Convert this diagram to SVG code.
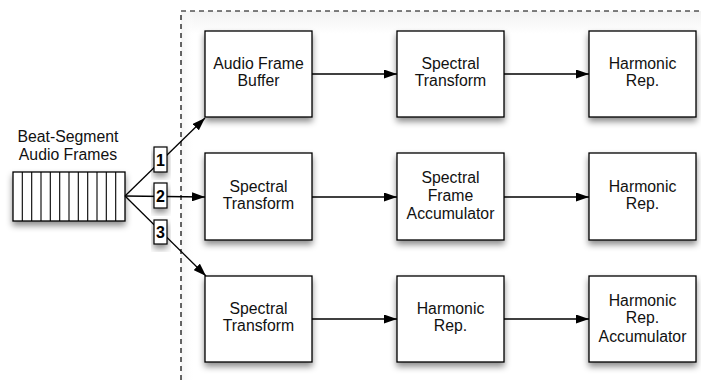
<svg xmlns="http://www.w3.org/2000/svg" width="701" height="380" viewBox="0 0 701 380">
<defs>
<filter id="sh" x="-20%" y="-20%" width="150%" height="150%">
<feDropShadow dx="0" dy="4" stdDeviation="3" flood-color="#000" flood-opacity="0.45"/>
</filter>
<linearGradient id="ins" gradientUnits="userSpaceOnUse" x1="0" y1="11" x2="0" y2="34">
<stop offset="0" stop-color="#f2f2f2"/>
<stop offset="1" stop-color="#ffffff"/>
</linearGradient>
<linearGradient id="insl" gradientUnits="userSpaceOnUse" x1="181" y1="0" x2="195" y2="0">
<stop offset="0" stop-color="#f4f4f4"/>
<stop offset="1" stop-color="#ffffff" stop-opacity="0"/>
</linearGradient>
<marker id="ah" markerWidth="13" markerHeight="9" refX="13" refY="4.5" orient="auto" markerUnits="userSpaceOnUse">
<path d="M0,0 L13,4.5 L0,9 z" fill="#000"/>
</marker>
<style>
.box{fill:#fff;stroke:#000;stroke-width:1.3;filter:url(#sh)}
.t{font-family:"Liberation Sans",Arial,Helvetica,sans-serif;font-size:15.8px;fill:#111;text-anchor:middle}
.n{font-family:"Liberation Sans",Arial,Helvetica,sans-serif;font-size:16px;font-weight:bold;fill:#000;text-anchor:middle}
.c{stroke:#000;stroke-width:1.3;fill:none;marker-end:url(#ah)}
.lb{fill:#fff;stroke:#000;stroke-width:1.2;filter:url(#sh)}
</style>
</defs>
<rect x="0" y="0" width="701" height="380" fill="#fff"/>
<g id="region">
<rect x="181" y="11" width="530" height="380" fill="url(#ins)"/>
<rect x="181" y="11" width="20" height="380" fill="url(#insl)"/>
<path d="M181,380 L181,11 L701,11" fill="none" stroke="#000" stroke-width="1.2" stroke-dasharray="5,4"/>
</g>
<g id="frames">
<rect x="13" y="172" width="112" height="49" class="box"/>
<path d="M22.3,172v49M31.7,172v49M41,172v49M50.3,172v49M59.7,172v49M69,172v49M78.3,172v49M87.7,172v49M97,172v49M106.3,172v49M115.7,172v49" stroke="#000" stroke-width="1.1"/>
<text class="t" x="68" y="141.5">Beat-Segment</text>
<text class="t" x="68" y="160">Audio Frames</text>
</g>
<g id="connectors">
<path class="c" d="M125,196 L205,118"/>
<path class="c" d="M125,196 L205,197"/>
<path class="c" d="M125,196 L206,276"/>
<path class="c" d="M312,74 L397,74"/>
<path class="c" d="M504,74 L589,74"/>
<path class="c" d="M312,197 L397,197"/>
<path class="c" d="M504,197 L589,197"/>
<path class="c" d="M312,319 L397,319"/>
<path class="c" d="M504,319 L589,319"/>
</g>
<g id="label1"><rect class="lb" x="154" y="147" width="13" height="25"/><text class="n" x="160.5" y="165.5">1</text></g>
<g id="label2"><rect class="lb" x="154" y="183" width="13" height="25"/><text class="n" x="160.5" y="201.5">2</text></g>
<g id="label3"><rect class="lb" x="154" y="220" width="13" height="24"/><text class="n" x="160.5" y="238">3</text></g>
<g id="n11"><rect class="box" x="205" y="31" width="107" height="86"/><text class="t" x="258.5" y="69">Audio Frame</text><text class="t" x="258.5" y="86">Buffer</text></g>
<g id="n12"><rect class="box" x="397" y="31" width="107" height="86"/><text class="t" x="450.5" y="69">Spectral</text><text class="t" x="450.5" y="86">Transform</text></g>
<g id="n13"><rect class="box" x="589" y="31" width="107" height="86"/><text class="t" x="642.5" y="69">Harmonic</text><text class="t" x="642.5" y="86">Rep.</text></g>
<g id="n21"><rect class="box" x="205" y="153" width="107" height="87"/><text class="t" x="258.5" y="192">Spectral</text><text class="t" x="258.5" y="209">Transform</text></g>
<g id="n22"><rect class="box" x="397" y="153" width="107" height="87"/><text class="t" x="450.5" y="183">Spectral</text><text class="t" x="450.5" y="201">Frame</text><text class="t" x="450.5" y="219">Accumulator</text></g>
<g id="n23"><rect class="box" x="589" y="153" width="107" height="87"/><text class="t" x="642.5" y="192">Harmonic</text><text class="t" x="642.5" y="209">Rep.</text></g>
<g id="n31"><rect class="box" x="205" y="276" width="107" height="86"/><text class="t" x="258.5" y="314">Spectral</text><text class="t" x="258.5" y="331">Transform</text></g>
<g id="n32"><rect class="box" x="397" y="276" width="107" height="86"/><text class="t" x="450.5" y="314">Harmonic</text><text class="t" x="450.5" y="331">Rep.</text></g>
<g id="n33"><rect class="box" x="589" y="276" width="107" height="86"/><text class="t" x="642.5" y="305.5">Harmonic</text><text class="t" x="642.5" y="323">Rep.</text><text class="t" x="642.5" y="341.5">Accumulator</text></g>
</svg>
